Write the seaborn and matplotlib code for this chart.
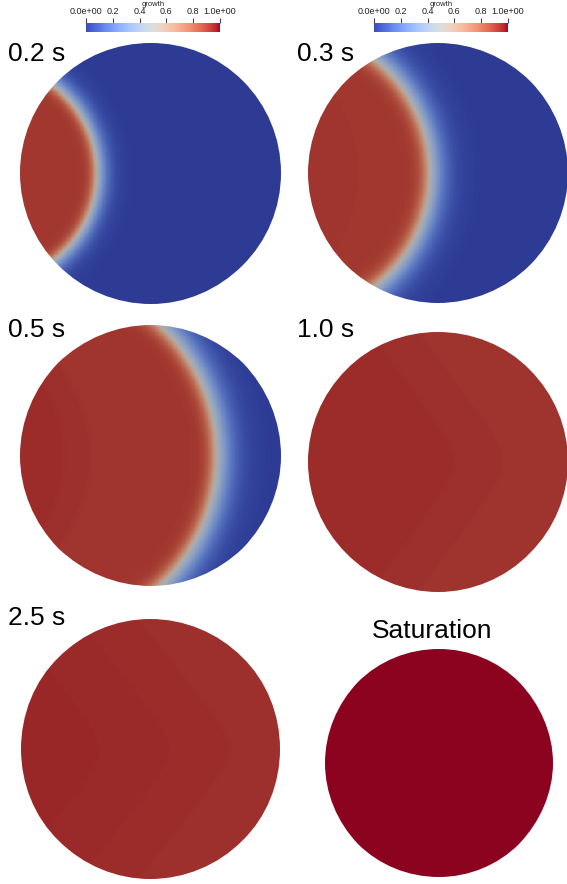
import numpy as np
import matplotlib
matplotlib.use("Agg")
import matplotlib.pyplot as plt
import seaborn as sns
from matplotlib.colors import ListedColormap, Normalize
from matplotlib.cm import ScalarMappable
from matplotlib.patches import Circle

# ---- data -------------------------------------------------------------
panel_labels = ["0.2 s", "0.3 s", "0.5 s", "1.0 s", "2.5 s", "Saturation"]
# centre-line position of the growth = 0.5 front (disk radius = 1); None = no front
front_pos = [-0.41, -0.06, 0.51, None, None, None]
# x of the centre of curvature of the (circular) fronts
front_source = [-1.25, -1.17, -0.85, None, None, None]
width_behind = [0.05, 0.07, 0.07, 0.07, 0.07, 0.07]
width_ahead = [0.10, 0.14, 0.15, 0.15, 0.15, 0.15]
# faint plateau bands behind the front (centre-line positions and their bending)
band_edges = [[], [-0.62], [-0.67, -0.46], [0.12, 0.50], [-0.38, 0.15, 0.61], []]
band_levels = [[0.92], [0.925, 0.92], [0.945, 0.937, 0.925], [0.945, 0.937, 0.928],
               [0.95, 0.947, 0.943, 0.936], [1.0]]
band_bend = [0.0, 1.0, 1.08, 0.76, 0.81, 0.0]
band_tip = [1.0, 1.0, 1.0, 0.15, 0.15, 1.0]
cbar_ticks = [0.0, 0.2, 0.4, 0.6, 0.8, 1.0]
cbar_ticklabels = ["0.0e+00", "0.2", "0.4", "0.6", "0.8", "1.0e+00"]
cbar_title = "growth"

# ---- layout (pixels, origin top-left) ----------------------------------
W, H = 567, 884
centers_px = [(150.5, 173), (438, 173), (150.5, 455.5), (438, 461.5), (150.5, 749), (438.5, 763)]
radii_px = [130.5, 130, 130.5, 130, 130, 114]
label_pos_px = [(8, 61), (297, 61), (8, 337), (297, 337), (8, 625), (432.5, 638)]
label_ha = ["left", "left", "left", "left", "left", "center"]
cbar_rects_px = [(86, 23, 134, 8.5), (374, 23, 134, 8.5)]

sns.set_theme(style="white")
plt.rcParams["font.family"] = ["Liberation Sans", "DejaVu Sans"]

base = plt.get_cmap("coolwarm")
shade = 0.775
lit = base(np.linspace(0, 1, 256))
lit[:, :3] *= shade
lit_cmap = ListedColormap(lit)

N = 320
coord = (np.arange(N) + 0.5) / N * 2 - 1
U, V = np.meshgrid(coord, coord)


def growth_field(i):
    sb = U + band_bend[i] * (np.sqrt(V ** 2 + band_tip[i] ** 2) - band_tip[i])
    lev = band_levels[i]
    plateau = np.full_like(U, lev[0])
    for k, e in enumerate(band_edges[i]):
        plateau += (lev[k + 1] - lev[k]) * 0.5 * (1 + np.tanh((sb - e) / 0.02))
    if front_pos[i] is None:
        return plateau
    c = front_source[i]
    d = c + np.sqrt((U - c) ** 2 + V ** 2) - front_pos[i]
    behind = 0.5 + (plateau - 0.5) * np.tanh(-d / width_behind[i])
    ahead = 0.5 - 0.5 * np.tanh(d / width_ahead[i])
    return np.where(d < 0, behind, ahead)


fig = plt.figure(figsize=(W / 100, H / 100), dpi=100)
fig.patch.set_facecolor("white")

for i, label in enumerate(panel_labels):
    cx, cy = centers_px[i]
    r = radii_px[i]
    ax = fig.add_axes([(cx - r) / W, (H - cy - r) / H, 2 * r / W, 2 * r / H])
    field = growth_field(i)
    mask = (U ** 2 + V ** 2) > 1.03
    sns.heatmap(field, ax=ax, cmap=lit_cmap, vmin=0, vmax=1, cbar=False,
                xticklabels=False, yticklabels=False, mask=mask)
    ax.set_xlim(0, N)
    ax.set_ylim(N, 0)
    ax.set_axis_off()
    mesh = ax.collections[0]
    mesh.set_clip_path(Circle((N / 2, N / 2), N / 2, transform=ax.transData))
    lx, ly = label_pos_px[i]
    fig.text(lx / W, 1 - ly / H, label, ha=label_ha[i], va="baseline",
             fontsize=19, color="black")

norm = Normalize(0, 1)
for (x, y, w, h) in cbar_rects_px:
    cax = fig.add_axes([x / W, 1 - (y + h) / H, w / W, h / H])
    cb = fig.colorbar(ScalarMappable(norm=norm, cmap=base), cax=cax,
                      orientation="horizontal", ticks=cbar_ticks)
    cb.outline.set_visible(False)
    cax.xaxis.set_ticks_position("top")
    cax.xaxis.set_label_position("top")
    cb.set_ticklabels(cbar_ticklabels)
    cax.tick_params(axis="x", length=3.6, width=0.8, color="#444444",
                    labelsize=6.5, labelcolor="#222222", pad=1.2)
    fig.text((x + w / 2) / W, 1 - 6.5 / H, cbar_title, ha="center", va="baseline",
             fontsize=5.5, color="#222222")

fig.savefig("out.png", dpi=100, facecolor="white")
